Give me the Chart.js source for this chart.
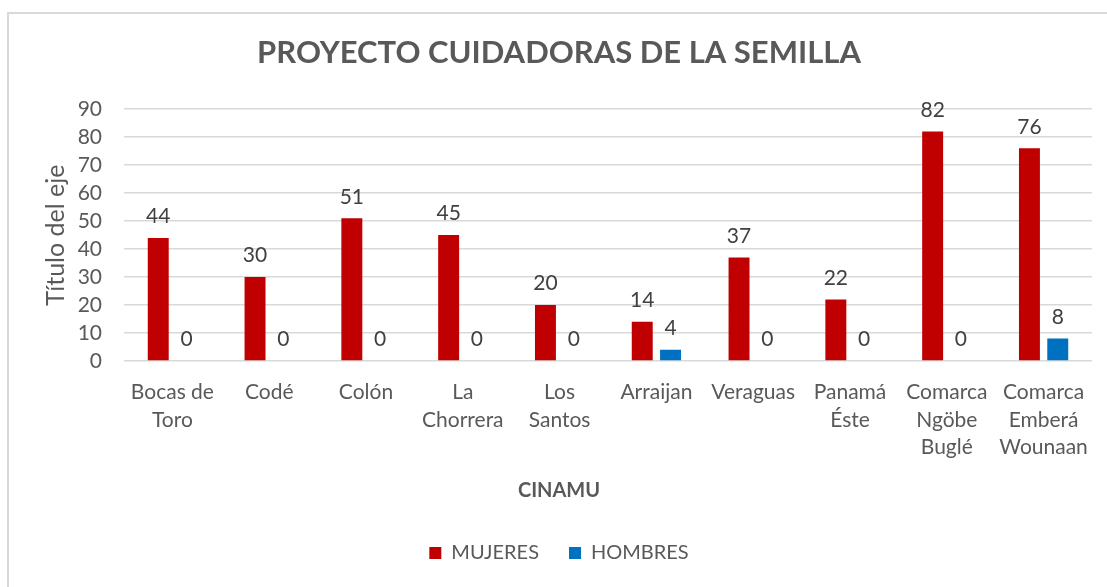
<!DOCTYPE html>
<html>
<head>
<meta charset="utf-8">
<script src="https://cdn.jsdelivr.net/npm/chart.js@4.4.1/dist/chart.umd.min.js"></script>
<style>
  html, body { margin: 0; padding: 0; background: #ffffff; }
  #frame { position: absolute; left: 7px; top: 12px; width: 1200px; height: 700px;
           border-left: 2px solid #d9d9d9; border-top: 2px solid #d9d9d9; }
  #wrap { position: absolute; left: 0; top: 0; width: 1107px; height: 587px; }
</style>
</head>
<body>
<div id="frame"></div>
<div id="wrap"><canvas id="c" width="1107" height="587"></canvas></div>
<script>
const categories = [
  ["Bocas de", "Toro"], "Codé", "Colón", ["La", "Chorrera"], ["Los", "Santos"],
  "Arraijan", "Veraguas", ["Panamá", "Éste"], ["Comarca", "Ngöbe", "Buglé"],
  ["Comarca", "Emberá", "Wounaan"]
];
const mujeres = [44, 30, 51, 45, 20, 14, 37, 22, 82, 76];
const hombres = [0, 0, 0, 0, 0, 4, 0, 0, 0, 8];
const yTicks = [0, 10, 20, 30, 40, 50, 60, 70, 80, 90];

const FONT = "Lato, 'Open Sans', sans-serif";

const dataLabels = {
  id: 'dataLabels',
  afterDatasetsDraw(chart) {
    const ctx = chart.ctx;
    ctx.save();
    ctx.font = "21px " + FONT;
    ctx.fillStyle = '#404040';
    ctx.textAlign = 'center';
    ctx.textBaseline = 'bottom';
    chart.data.datasets.forEach((ds, di) => {
      const meta = chart.getDatasetMeta(di);
      meta.data.forEach((el, i) => {
        ctx.fillText(String(ds.data[i]), el.x, el.y - 11);
      });
    });
    ctx.restore();
  }
};

new Chart(document.getElementById('c'), {
  type: 'bar',
  data: {
    labels: categories,
    datasets: [
      { label: 'MUJERES', data: mujeres, backgroundColor: '#C00000',
        categoryPercentage: 0.585, barPercentage: 0.74 },
      { label: 'HOMBRES', data: hombres, backgroundColor: '#0070C0',
        categoryPercentage: 0.585, barPercentage: 0.74 }
    ]
  },
  options: {
    responsive: false,
    animation: false,
    devicePixelRatio: 1,
    layout: { padding: { left: 26, right: 15, top: 0, bottom: 24 } },
    plugins: {
      title: {
        display: true,
        text: 'PROYECTO CUIDADORAS DE LA SEMILLA',
        color: '#595959',
        font: { family: FONT, size: 31, weight: 'bold', lineHeight: 1.2 },
        padding: { top: 34, bottom: 38 }
      },
      subtitle: {
        display: true,
        position: 'bottom',
        weight: 500,
        text: 'CINAMU',
        color: '#595959',
        font: { family: FONT, size: 20, weight: 'bold', lineHeight: 1.2 },
        padding: { top: 18, bottom: 10 }
      },
      legend: {
        position: 'bottom',
        weight: 1000,
        maxHeight: 50,
        labels: {
          color: '#595959',
          font: { family: FONT, size: 20 },
          boxWidth: 12, boxHeight: 12, padding: 30
        }
      },
      tooltip: { enabled: false }
    },
    scales: {
      x: {
        grid: { display: false, drawTicks: false },
        border: { display: false },
        ticks: {
          color: '#595959',
          font: { family: FONT, size: 21, lineHeight: 1.3 },
          padding: 18,
          maxRotation: 0, autoSkip: false
        },
        afterFit(scale) { scale.height = 100; }
      },
      y: {
        min: 0, max: 90,
        afterBuildTicks(scale) { scale.ticks = yTicks.map(v => ({ value: v })); },
        grid: { color: '#d9d9d9', lineWidth: 1.5, drawTicks: false },
        border: { display: false },
        ticks: {
          color: '#595959',
          font: { family: FONT, size: 21 },
          padding: 22,
          autoSkip: false
        },
        title: {
          display: true, text: 'Título del eje', color: '#595959',
          font: { family: FONT, size: 25, lineHeight: 1.2 },
          padding: { top: 15, bottom: 0 }
        },
        afterFit(scale) { scale.width = 98; }
      }
    }
  },
  plugins: [dataLabels]
});
</script>
</body>
</html>
